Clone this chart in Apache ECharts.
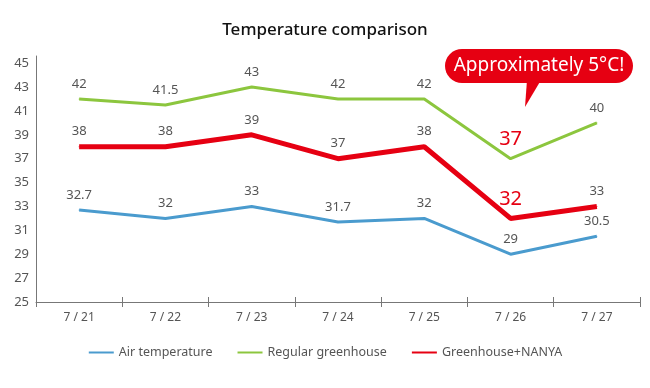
<!DOCTYPE html>
<html><head><meta charset="utf-8">
<script src="https://cdn.jsdelivr.net/npm/echarts@6/dist/echarts.min.js"></script>
<style>html,body{margin:0;padding:0;background:#fff}#c{width:650px;height:388px}</style>
</head><body><div id="c"></div>
<script>
const categories = ['7 / 21','7 / 22','7 / 23','7 / 24','7 / 25','7 / 26','7 / 27'];
const airTemp = [32.7, 32, 33, 31.7, 32, 29, 30.5];
const regular = [42, 41.5, 43, 42, 42, 37, 40];
const nanya = [38, 38, 39, 37, 38, 32, 33];
const highlightIndex = 5;
const calloutText = 'Approximately 5°C!';

const FONT = '"Noto Sans", sans-serif';
const chart = echarts.init(document.getElementById('c'));

function labeled(arr, hiColor) {
  return arr.map((v, i) => {
    if (i === highlightIndex && hiColor) {
      return { value: v, label: { color: hiColor, fontSize: 20, distance: 9 } };
    }
    return v;
  });
}

const baseLabel = { show: true, position: 'top', distance: 8, color: '#555', fontSize: 13, fontFamily: FONT };

chart.setOption({
  animation: false,
  title: { text: 'Temperature comparison', left: 'center', top: 17,
    textStyle: { fontSize: 17, fontWeight: 500, color: '#111', fontFamily: FONT } },
  legend: {
    bottom: 24, left: 'center', itemWidth: 25, itemHeight: 8, itemGap: 24,
    itemStyle: { opacity: 0 },
    textStyle: { color: '#555', fontSize: 12.5, fontFamily: FONT },
    data: ['Air temperature', 'Regular greenhouse', 'Greenhouse+NANYA']
  },
  grid: { left: 36, right: 10, top: 56, bottom: 86 },
  xAxis: [{
    type: 'category', data: categories, position: 'bottom',
    axisLine: { lineStyle: { color: '#777', width: 1 } },
    axisTick: { show: true, length: 5, lineStyle: { color: '#777' } },
    axisLabel: { color: '#555', fontSize: 12, margin: 10, fontFamily: FONT }
  }, {
    type: 'category', data: categories, position: 'bottom',
    axisLine: { show: false },
    axisTick: { show: true, inside: true, length: 5, lineStyle: { color: '#777' } },
    axisLabel: { show: false }
  }],
  yAxis: {
    type: 'value', min: 25, max: 45.6, interval: 2,
    axisLine: { show: true, lineStyle: { color: '#777' } },
    axisTick: { show: false }, splitLine: { show: false },
    axisLabel: { color: '#555', fontSize: 13, margin: 7, fontFamily: FONT,
      formatter: v => ((v - 25) % 2 === 0 ? String(v) : '') }
  },
  series: [
    { name: 'Air temperature', type: 'line', data: labeled(airTemp), symbol: 'circle', symbolSize: 1,
      lineStyle: { color: '#4a9bce', width: 3 }, itemStyle: { color: '#4a9bce' }, label: baseLabel, z: 2 },
    { name: 'Regular greenhouse', type: 'line', data: labeled(regular, '#e60012'), symbol: 'circle', symbolSize: 1,
      lineStyle: { color: '#8cc63e', width: 3 }, itemStyle: { color: '#8cc63e' }, label: baseLabel, z: 2 },
    { name: 'Greenhouse+NANYA', type: 'line', data: labeled(nanya, '#e60012'), symbol: 'circle', symbolSize: 1,
      lineStyle: { color: '#e60012', width: 5 }, itemStyle: { color: '#e60012' }, label: baseLabel, z: 3 }
  ],
  graphic: [
    { type: 'polygon', shape: { points: [[527, 80], [541, 80], [525, 107]] }, style: { fill: '#e60012' }, z: 10 },
    { type: 'rect', shape: { x: 445, y: 49, width: 188, height: 34, r: 17 }, style: { fill: '#e60012' }, z: 10 },
    { type: 'text', x: 539, y: 66, style: { text: calloutText, fill: '#fff', fontSize: 19, fontFamily: FONT,
      align: 'center', verticalAlign: 'middle' }, z: 11 }
  ]
});
</script></body></html>
